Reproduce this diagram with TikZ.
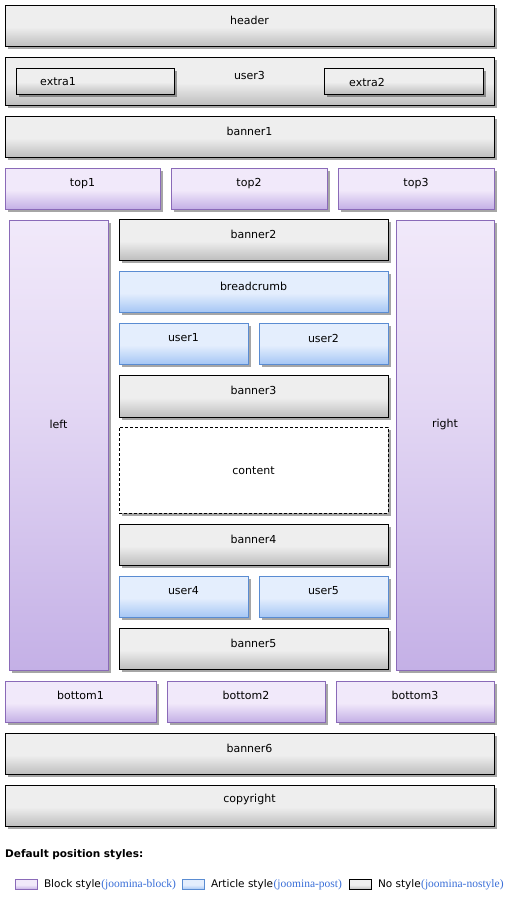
\documentclass[tikz,border=0pt]{standalone}
\usepackage{fontspec}
\setmainfont{DejaVu Sans}
\newfontfamily\lnkfont{Liberation Serif}
\usetikzlibrary{shadows}
\definecolor{gT}{HTML}{EEEEEE}
\definecolor{gB}{HTML}{BEBEBE}
\definecolor{pT}{HTML}{F1E9FA}
\definecolor{pB}{HTML}{C4B0E6}
\definecolor{pD}{HTML}{8A6AB8}
\definecolor{bT}{HTML}{E4EEFD}
\definecolor{bB}{HTML}{A6C7F5}
\definecolor{bD}{HTML}{5A8CD2}
\definecolor{lnk}{HTML}{3A6FD8}
\pgfdeclareverticalshading{shG}{100bp}{color(0bp)=(gB); color(25bp)=(gB); color(48bp)=(gT); color(100bp)=(gT)}
\pgfdeclareverticalshading{shP}{100bp}{color(0bp)=(pB); color(25bp)=(pB); color(48bp)=(pT); color(100bp)=(pT)}
\pgfdeclareverticalshading{shB}{100bp}{color(0bp)=(bB); color(25bp)=(bB); color(48bp)=(bT); color(100bp)=(bT)}
\pgfdeclareverticalshading{shCol}{100bp}{color(0bp)=(pB); color(25bp)=(pB); color(55bp)=(pT!70!pB); color(75bp)=(pT); color(100bp)=(pT)}
\tikzset{
  boxbase/.style={rectangle, inner sep=0pt, outer sep=0pt, anchor=north west, line width=0.8pt,
    drop shadow={shadow xshift=2.5pt, shadow yshift=-2.5pt, opacity=0.35, fill=black}},
  nostyle/.style={boxbase, draw=black, shading=shG},
  blockst/.style={boxbase, draw=pD, shading=shP},
  postst/.style={boxbase, draw=bD, shading=shB},
  colst/.style={boxbase, draw=pD, shading=shCol},
  contentst/.style={boxbase, draw=black, fill=white, dash pattern=on 3pt off 2pt},
  lbl/.style={font=\fontsize{11}{12}\selectfont, text=black, inner sep=0pt},
  legbox/.style={rectangle, inner sep=0pt, anchor=north west, line width=0.8pt,
    minimum width=22pt, minimum height=10pt},
  legtxt/.style={font=\fontsize{10.5}{12}\selectfont, inner sep=0pt, anchor=west},
  lnktxt/.style={font=\lnkfont\fontsize{11.5}{12}\selectfont, text=lnk, inner sep=0pt, anchor=west},
}
% #1 label offset, #2 name, #3 style, #4 x1, #5 y1, #6 x2, #7 y2, #8 label
\newcommand\bx[8][15]{%
  \node[#3, minimum width={(#6-#4)*1pt}, minimum height={(#7-#5)*1pt}] (#2) at (#4pt,-#5pt) {};
  \node[lbl] (#2-l) at ([yshift=-#1pt]#2.north) {#8};
}
\begin{document}
\begin{tikzpicture}
\useasboundingbox[fill=white] (0,0) rectangle (507pt,-905pt);
\bx{header}{nostyle}{5}{5}{494}{46}{header}
\bx[18]{user3}{nostyle}{5}{57}{494}{105}{user3}
\node[nostyle, minimum width=158pt, minimum height=26pt] (extra1) at (16pt,-68pt) {};
\node[lbl, anchor=west] (extra1-l) at ([xshift=24pt,yshift=-1pt]extra1.west) {extra1};
\node[nostyle, minimum width=159pt, minimum height=26pt] (extra2) at (324pt,-68pt) {};
\node[lbl, anchor=west] (extra2-l) at ([xshift=25pt,yshift=-1pt]extra2.west) {extra2};
\bx{banner1}{nostyle}{5}{116}{494}{157}{banner1}
\bx[16]{top1}{blockst}{5}{168}{160}{209}{top1}
\bx[16]{top2}{blockst}{171}{168}{327}{209}{top2}
\bx[16]{top3}{blockst}{338}{168}{494}{209}{top3}
\bx[204]{left}{colst}{9}{220}{108}{670}{left}
\bx[204]{right}{colst}{396}{220}{494}{670}{right}
\bx{banner2}{nostyle}{119}{219}{388}{260}{banner2}
\bx{breadcrumb}{postst}{119}{271}{388}{312}{breadcrumb}
\bx{user1}{postst}{119}{323}{248}{364}{user1}
\bx{user2}{postst}{259}{323}{388}{364}{user2}
\bx{banner3}{nostyle}{119}{375}{388}{417}{banner3}
\bx[44]{content}{contentst}{119}{427}{388}{513}{content}
\bx{banner4}{nostyle}{119}{524}{388}{565}{banner4}
\bx{user4}{postst}{119}{576}{248}{617}{user4}
\bx{user5}{postst}{259}{576}{388}{617}{user5}
\bx{banner5}{nostyle}{119}{628}{388}{669}{banner5}
\bx[14]{bottom1}{blockst}{5}{681}{156}{722}{bottom1}
\bx[14]{bottom2}{blockst}{167}{681}{325}{722}{bottom2}
\bx[14]{bottom3}{blockst}{336}{681}{494}{722}{bottom3}
\bx{banner6}{nostyle}{5}{733}{494}{774}{banner6}
\bx[14]{copyright}{nostyle}{5}{785}{494}{826}{copyright}
% legend
\node[font=\bfseries\fontsize{10.5}{12}\selectfont, inner sep=0pt, anchor=west] (legtitle) at (5pt,-855pt) {Default position styles:};
\node[legbox, draw=pD, shading=shP] (lgb) at (15pt,-879pt) {};
\node[legtxt] (lgbt) at ([xshift=6pt]lgb.east) {Block style};
\node[lnktxt] (lgbl) at (lgbt.east) {(joomina-block)};
\node[legbox, draw=bD, shading=shB] (lgp) at (182pt,-879pt) {};
\node[legtxt] (lgpt) at ([xshift=6pt]lgp.east) {Article style};
\node[lnktxt] (lgpl) at (lgpt.east) {(joomina-post)};
\node[legbox, draw=black, shading=shG] (lgn) at (349pt,-879pt) {};
\node[legtxt] (lgnt) at ([xshift=6pt]lgn.east) {No style};
\node[lnktxt] (lgnl) at (lgnt.east) {(joomina-nostyle)};
\end{tikzpicture}
\end{document}
